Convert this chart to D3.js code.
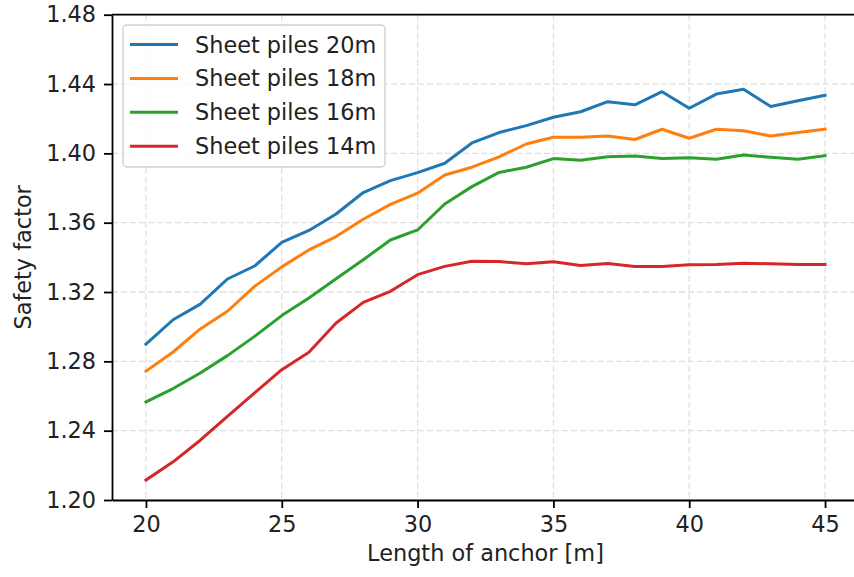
<!DOCTYPE html>
<html>
<head>
<meta charset="utf-8">
<script src="https://cdn.jsdelivr.net/npm/d3@7"></script>
<style>
  body { margin: 0; background: #fff; }
  svg { display: block; }
</style>
</head>
<body>
<div id="chart"></div>
<script>
const anchorLengths = d3.range(20, 46);

const seriesNames = ["Sheet piles 20m", "Sheet piles 18m", "Sheet piles 16m", "Sheet piles 14m"];
const seriesColors = ["#1f77b4", "#ff7f0e", "#2ca02c", "#d62728"];

const piles20 = [1.290, 1.304, 1.313, 1.3275, 1.335, 1.3486, 1.3555, 1.365, 1.3774, 1.3843, 1.3889, 1.3943, 1.406,
                 1.412, 1.416, 1.4208, 1.424, 1.4298, 1.428, 1.4356, 1.426, 1.4342, 1.437, 1.427, 1.4304, 1.4335];
const piles18 = [1.2743, 1.2854, 1.2987, 1.3089, 1.3233, 1.3345, 1.3443, 1.352, 1.362, 1.3706, 1.377, 1.3875, 1.392,
                 1.398, 1.4054, 1.4093, 1.4093, 1.410, 1.408, 1.4139, 1.4087, 1.4139, 1.413, 1.410, 1.412, 1.414];
const piles16 = [1.2566, 1.2643, 1.2733, 1.2833, 1.2944, 1.3064, 1.3165, 1.3277, 1.3386, 1.350, 1.3558, 1.3708, 1.3808,
                 1.389, 1.392, 1.397, 1.396, 1.398, 1.3985, 1.397, 1.3975, 1.3966, 1.399, 1.3977, 1.3966, 1.3987];
const piles14 = [1.2115, 1.222, 1.2345, 1.2483, 1.2618, 1.2752, 1.2852, 1.3021, 1.314, 1.3204, 1.330, 1.3348, 1.3377,
                 1.3376, 1.3363, 1.3374, 1.3353, 1.3364, 1.3347, 1.3347, 1.3357, 1.3359, 1.3366, 1.3363, 1.3359, 1.3359];

const xTicks = [20, 25, 30, 35, 40, 45];
const yTicks = [1.20, 1.24, 1.28, 1.32, 1.36, 1.40, 1.44, 1.48];

const allSeries = [piles20, piles18, piles16, piles14];

const W = 854, H = 577;
const margin = { top: 14.7, left: 112, right: -5, bottom: 77 };
const width = W - margin.left - margin.right;
const height = H - margin.top - margin.bottom;
const font = "'DejaVu Sans', sans-serif";
const fontSize = "22.4px";

const svg = d3.select("#chart").append("svg")
  .attr("width", W)
  .attr("height", H);

const g = svg.append("g").attr("transform", `translate(${margin.left},${margin.top})`);

const x = d3.scaleLinear().domain([18.75, 46.25]).range([0, width]);
const y = d3.scaleLinear().domain([1.20, 1.48]).range([height, 0]);

// grid
g.append("g").selectAll("line").data(xTicks).enter().append("line")
  .attr("x1", d => x(d)).attr("x2", d => x(d))
  .attr("y1", 0).attr("y2", height)
  .attr("stroke", "#e0e0e0").attr("stroke-width", 1.3).attr("stroke-dasharray", "6,3");
g.append("g").selectAll("line").data(yTicks).enter().append("line")
  .attr("x1", 0).attr("x2", width)
  .attr("y1", d => y(d)).attr("y2", d => y(d))
  .attr("stroke", "#e0e0e0").attr("stroke-width", 1.3).attr("stroke-dasharray", "6,3");

// lines
const line = d3.line()
  .x((d, i) => x(anchorLengths[i]))
  .y(d => y(d));

g.append("g").selectAll("path").data(allSeries).enter().append("path")
  .attr("d", d => line(d))
  .attr("fill", "none")
  .attr("stroke", (d, i) => seriesColors[i])
  .attr("stroke-width", 3)
  .attr("stroke-linejoin", "round")
  .attr("stroke-linecap", "square");

// axes
const xAxis = g.append("g")
  .attr("transform", `translate(0,${height})`)
  .call(d3.axisBottom(x).tickValues(xTicks).tickSize(8).tickPadding(8).tickSizeOuter(0));
const yAxis = g.append("g")
  .call(d3.axisLeft(y).tickValues(yTicks).tickFormat(d3.format(".2f")).tickSize(8).tickPadding(8).tickSizeOuter(0));

[xAxis, yAxis].forEach(a => {
  a.select(".domain").attr("stroke", "#000").attr("stroke-width", 1.8);
  a.selectAll(".tick line").attr("stroke", "#000").attr("stroke-width", 1.8);
  a.selectAll("text").attr("fill", "#222").attr("font-family", font).attr("font-size", fontSize);
});

// top spine
g.append("line")
  .attr("x1", 0).attr("x2", width).attr("y1", 0).attr("y2", 0)
  .attr("stroke", "#000").attr("stroke-width", 1.8);

// axis labels
svg.append("text")
  .attr("x", margin.left + width / 2)
  .attr("y", 561)
  .attr("text-anchor", "middle")
  .attr("fill", "#222").attr("font-family", font).attr("font-size", fontSize)
  .text("Length of anchor [m]");

svg.append("text")
  .attr("transform", `translate(31,${margin.top + height / 2}) rotate(-90)`)
  .attr("text-anchor", "middle")
  .attr("fill", "#222").attr("font-family", font).attr("font-size", fontSize)
  .text("Safety factor");

// legend
const legend = svg.append("g").attr("transform", "translate(123,25)");
legend.append("rect")
  .attr("width", 262).attr("height", 142).attr("rx", 4)
  .attr("fill", "#fff").attr("fill-opacity", 0.8)
  .attr("stroke", "#d0d0d0").attr("stroke-width", 1.4);

const items = legend.selectAll(".item").data(seriesNames).enter().append("g")
  .attr("class", "item")
  .attr("transform", (d, i) => `translate(0,${19.5 + i * 33.9})`);
items.append("line")
  .attr("x1", 7).attr("x2", 55)
  .attr("stroke", (d, i) => seriesColors[i]).attr("stroke-width", 3);
items.append("text")
  .attr("x", 72).attr("dy", "0.36em")
  .attr("fill", "#222").attr("font-family", font).attr("font-size", fontSize)
  .text(d => d);
</script>
</body>
</html>
